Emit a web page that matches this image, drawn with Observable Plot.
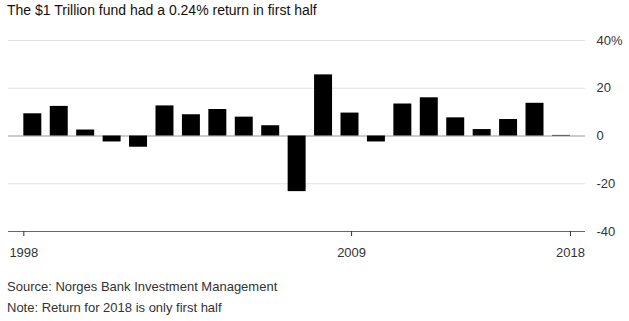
<!DOCTYPE html>
<html>
<head>
<meta charset="utf-8">
<script src="https://cdn.jsdelivr.net/npm/d3@7"></script>
<script src="https://cdn.jsdelivr.net/npm/@observablehq/plot@0.6"></script>
<style>
  body { margin: 0; background: #fff; font-family: "Liberation Sans", Arial, sans-serif; }
  #title { position: absolute; left: 7px; top: 2px; font-size: 14px; color: #111; white-space: nowrap; }
  #chart { position: absolute; left: 0; top: 28px; }
  .cap { position: absolute; left: 7px; font-size: 13px; color: #333; white-space: nowrap; }
</style>
</head>
<body>
<div id="title">The $1 Trillion fund had a 0.24% return in first half</div>
<div id="chart"></div>
<div class="cap" style="top:279px">Source: Norges Bank Investment Management</div>
<div class="cap" style="top:300px">Note: Return for 2018 is only first half</div>
<script>
const years = [1998,1999,2000,2001,2002,2003,2004,2005,2006,2007,2008,2009,2010,2011,2012,2013,2014,2015,2016,2017,2018];
const returns = [9.3,12.4,2.5,-2.5,-4.7,12.6,8.9,11.1,7.9,4.3,-23.3,25.6,9.6,-2.5,13.4,16.0,7.6,2.7,6.9,13.7,0.24];
const xTickLabels = [1998, 2009, 2018];
const yTicks = [-40, -20, 0, 20, 40];

const data = years.map((y, i) => ({year: y, value: returns[i]}));
const barFrac = 0.68;
// where the reference puts each labelled tick along the year axis
const tickPos = {1998: 1998, 2009: 2010.4, 2018: 2018 + barFrac};
const ticks = xTickLabels.map(l => ({label: String(l), pos: tickPos[l]}));

const chart = Plot.plot({
  width: 629,
  height: 240,
  marginTop: 12,
  marginBottom: 37,
  marginLeft: 8,
  marginRight: 44,
  style: {fontFamily: "'Liberation Sans', Arial, sans-serif", fontSize: "13px", color: "#333"},
  x: {domain: [1997.42, 2019.25], axis: null},
  y: {domain: [-40, 40], axis: null},
  marks: [
    Plot.ruleY(yTicks.filter(d => d !== 0 && d !== -40), {stroke: "#e2e2e2", strokeWidth: 1}),
    Plot.ruleY([0], {stroke: "#999", strokeWidth: 1}),
    Plot.rectY(data, {x1: "year", x2: d => d.year + barFrac, y1: 0, y2: "value", fill: "#000"}),
    Plot.ruleY([-40], {stroke: "#666", strokeWidth: 1}),
    Plot.ruleX(ticks, {x: "pos", y1: -40, y2: -40, stroke: "#333", insetBottom: -5}),
    Plot.text(ticks, {x: "pos", y: -40, text: "label", dy: 21, fill: "#333", fontSize: 13}),
    Plot.text(yTicks, {x: 2019.25, y: d => d, text: d => d === 40 ? "40%" : String(d), dx: 11, textAnchor: "start", fill: "#333", fontSize: 13})
  ]
});
document.getElementById("chart").appendChild(chart);
</script>
</body>
</html>
